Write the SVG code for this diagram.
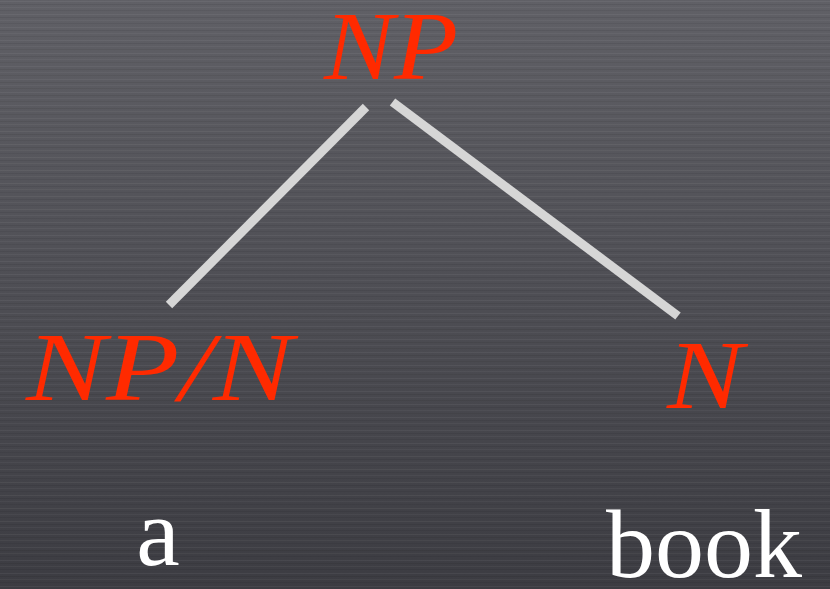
<svg xmlns="http://www.w3.org/2000/svg" width="830" height="589" viewBox="0 0 830 589">
<defs>
<linearGradient id="bg" x1="0" y1="0" x2="0" y2="1">
<stop offset="0" stop-color="#606066"/>
<stop offset="0.5" stop-color="#4e4e54"/>
<stop offset="1" stop-color="#3c3c42"/>
</linearGradient>
<pattern id="brush" width="830" height="13" patternUnits="userSpaceOnUse">
<rect x="0" y="1" width="830" height="1" fill="#ffffff" opacity="0.05"/>
<rect x="0" y="4" width="830" height="1" fill="#000000" opacity="0.07"/>
<rect x="0" y="7" width="830" height="1" fill="#ffffff" opacity="0.04"/>
<rect x="0" y="10" width="830" height="1" fill="#000000" opacity="0.06"/>
</pattern>
<style>
.cat{font-family:'Liberation Serif','DejaVu Serif',serif;font-style:italic;font-size:98px;fill:#ff2a00}
.word{font-family:'Liberation Serif','DejaVu Serif',serif;font-size:98px;fill:#ffffff}
.edge{stroke:#d6d6d6;stroke-width:9;stroke-linecap:butt}
</style>
</defs>
<rect width="830" height="589" fill="url(#bg)"/>
<rect width="830" height="589" fill="url(#brush)"/>
<g id="connectors">
<line class="edge" x1="366" y1="107" x2="169" y2="305"/>
<line class="edge" x1="392.5" y1="102" x2="678" y2="316"/>
</g>
<g id="node-np">
<text class="cat" x="324" y="79" textLength="134" lengthAdjust="spacingAndGlyphs">NP</text>
</g>
<g id="node-npn">
<text class="cat" x="26" y="400" textLength="267" lengthAdjust="spacingAndGlyphs">NP/N</text>
</g>
<g id="node-n">
<text class="cat" x="667" y="408" textLength="76" lengthAdjust="spacingAndGlyphs">N</text>
</g>
<g id="word-a">
<text class="word" x="158" y="565" text-anchor="middle">a</text>
</g>
<g id="word-book">
<text class="word" x="704" y="577" text-anchor="middle">book</text>
</g>
</svg>
